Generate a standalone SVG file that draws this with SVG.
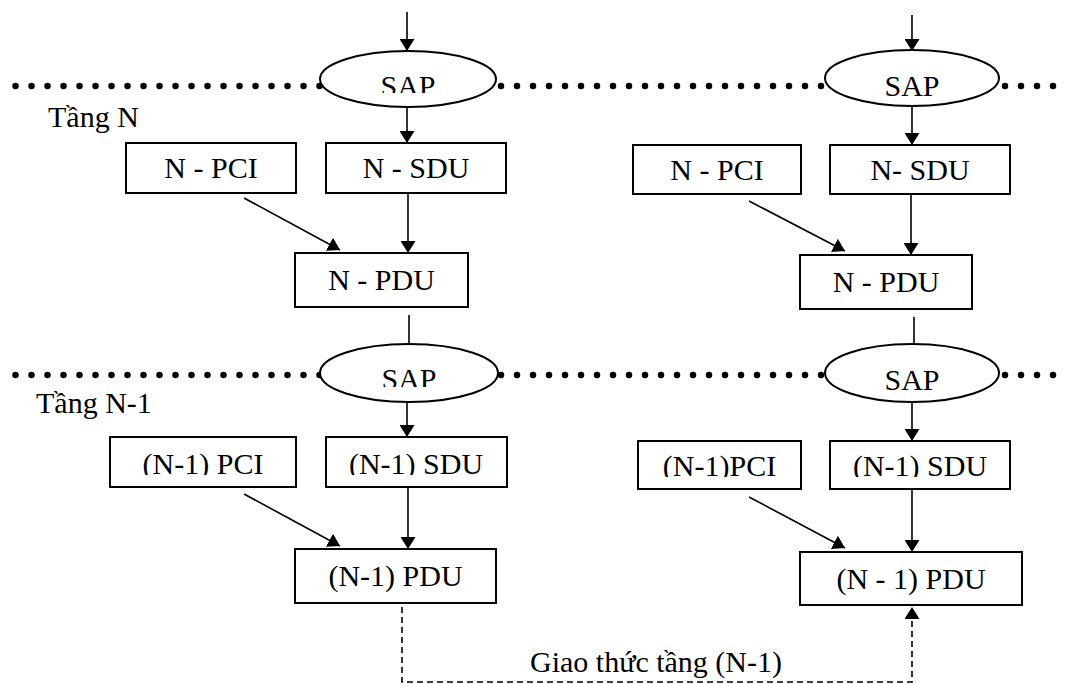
<svg xmlns="http://www.w3.org/2000/svg" width="1069" height="684" viewBox="0 0 1069 684">
  <style>
    .box { fill: #fff; stroke: #000; stroke-width: 2; }
    .sap { fill: #fff; stroke: #000; stroke-width: 2; }
    .lbl { font-family: "Liberation Serif", "Times New Roman", serif; font-size: 30px; fill: #000; }
    .mid { text-anchor: middle; }
    .conn { stroke: #000; stroke-width: 1.6; fill: none; }
    .dash { stroke-dasharray: 6 4; }
    .dots { stroke: #000; stroke-width: 6.5; stroke-linecap: round; stroke-dasharray: 0 16; fill: none; }
  </style>
  <defs>
    <marker id="arr" viewBox="0 0 12 15" refX="12" refY="7.5" markerWidth="12" markerHeight="15" markerUnits="userSpaceOnUse" orient="auto">
      <path d="M0,0 L12,7.5 L0,15 z" fill="#000"/>
    </marker>
    <!-- text boxes that cut their label off at the bottom -->
    <clipPath id="clipSapTop"><rect x="300" y="40" width="210" height="53"/></clipPath>
    <clipPath id="clipSapLow"><rect x="300" y="340" width="210" height="47"/></clipPath>
    <clipPath id="clipRowL"><rect x="0" y="430" width="1069" height="45"/></clipPath>
    <clipPath id="clipRowR"><rect x="0" y="430" width="1069" height="47"/></clipPath>
  </defs>

  <!-- layer boundaries -->
  <g id="boundaries">
    <line class="dots" x1="15.5" y1="86" x2="320" y2="86"/>
    <line class="dots" x1="501" y1="86" x2="826" y2="86"/>
    <line class="dots" x1="1005" y1="86" x2="1069" y2="86"/>
    <line class="dots" x1="15.5" y1="375" x2="320" y2="375"/>
    <line class="dots" x1="501" y1="375" x2="826" y2="375"/>
    <line class="dots" x1="1005" y1="375" x2="1069" y2="375"/>
    <text class="lbl" x="48" y="127">Tầng N</text>
    <text class="lbl" x="36" y="413">Tầng N-1</text>
  </g>

  <!-- connectors -->
  <g id="connectors">
    <!-- left stack -->
    <line class="conn" x1="407" y1="12" x2="407" y2="51" marker-end="url(#arr)"/>
    <line class="conn" x1="407" y1="107" x2="407" y2="143" marker-end="url(#arr)"/>
    <line class="conn" x1="408" y1="193" x2="408" y2="253" marker-end="url(#arr)"/>
    <line class="conn" x1="244" y1="198" x2="340" y2="250" marker-end="url(#arr)"/>
    <line class="conn" x1="409" y1="315" x2="409" y2="344"/>
    <line class="conn" x1="407" y1="402" x2="407" y2="437" marker-end="url(#arr)"/>
    <line class="conn" x1="408" y1="488" x2="408" y2="549" marker-end="url(#arr)"/>
    <line class="conn" x1="244" y1="494" x2="340" y2="546" marker-end="url(#arr)"/>
    <!-- right stack -->
    <line class="conn" x1="912" y1="15" x2="912" y2="51" marker-end="url(#arr)"/>
    <line class="conn" x1="912" y1="106" x2="912" y2="145" marker-end="url(#arr)"/>
    <line class="conn" x1="911" y1="194" x2="911" y2="255" marker-end="url(#arr)"/>
    <line class="conn" x1="749" y1="201" x2="845" y2="251" marker-end="url(#arr)"/>
    <line class="conn" x1="914" y1="317" x2="914" y2="344"/>
    <line class="conn" x1="912" y1="402" x2="912" y2="441" marker-end="url(#arr)"/>
    <line class="conn" x1="912" y1="489" x2="912" y2="552" marker-end="url(#arr)"/>
    <line class="conn" x1="749" y1="497" x2="845" y2="548" marker-end="url(#arr)"/>
    <!-- peer protocol between the two (N-1) entities -->
    <path class="conn dash" d="M402,607 V682 H912 V607" marker-end="url(#arr)"/>
    <text class="lbl mid" x="656" y="672">Giao thức tầng (N-1)</text>
  </g>

  <!-- layer N, left -->
  <g id="sap-n-left">
    <ellipse class="sap" cx="408" cy="79" rx="88" ry="28"/>
    <text class="lbl mid" x="408" y="96" clip-path="url(#clipSapTop)">SAP</text>
  </g>
  <g id="n-pci-left">
    <rect class="box" x="126" y="143" width="170" height="50"/>
    <text class="lbl mid" x="211" y="178">N - PCI</text>
  </g>
  <g id="n-sdu-left">
    <rect class="box" x="326" y="143" width="180" height="50"/>
    <text class="lbl mid" x="416" y="178">N - SDU</text>
  </g>
  <g id="n-pdu-left">
    <rect class="box" x="295" y="253" width="173" height="54"/>
    <text class="lbl mid" x="381.5" y="290">N - PDU</text>
  </g>

  <!-- layer N, right -->
  <g id="sap-n-right">
    <ellipse class="sap" cx="912" cy="78" rx="87" ry="28"/>
    <text class="lbl mid" x="912" y="96">SAP</text>
  </g>
  <g id="n-pci-right">
    <rect class="box" x="633" y="145" width="168" height="49"/>
    <text class="lbl mid" x="717" y="180">N - PCI</text>
  </g>
  <g id="n-sdu-right">
    <rect class="box" x="830" y="145" width="180" height="49"/>
    <text class="lbl mid" x="920" y="180">N- SDU</text>
  </g>
  <g id="n-pdu-right">
    <rect class="box" x="800" y="255" width="172" height="54"/>
    <text class="lbl mid" x="886" y="292">N - PDU</text>
  </g>

  <!-- layer N-1, left -->
  <g id="sap-n1-left">
    <ellipse class="sap" cx="409" cy="373" rx="89" ry="29"/>
    <text class="lbl mid" x="409" y="389" clip-path="url(#clipSapLow)">SAP</text>
  </g>
  <g id="n1-pci-left">
    <rect class="box" x="110" y="437" width="186" height="50"/>
    <text class="lbl mid" x="203" y="474" clip-path="url(#clipRowL)">(N-1) PCI</text>
  </g>
  <g id="n1-sdu-left">
    <rect class="box" x="326" y="437" width="181" height="50"/>
    <text class="lbl mid" x="416" y="474" clip-path="url(#clipRowL)">(N-1) SDU</text>
  </g>
  <g id="n1-pdu-left">
    <rect class="box" x="295" y="549" width="201" height="54"/>
    <text class="lbl mid" x="395.5" y="586">(N-1) PDU</text>
  </g>

  <!-- layer N-1, right -->
  <g id="sap-n1-right">
    <ellipse class="sap" cx="912" cy="373" rx="87" ry="29"/>
    <text class="lbl mid" x="912" y="390">SAP</text>
  </g>
  <g id="n1-pci-right">
    <rect class="box" x="638" y="441" width="163" height="48"/>
    <text class="lbl mid" x="719.5" y="476" clip-path="url(#clipRowR)">(N-1)PCI</text>
  </g>
  <g id="n1-sdu-right">
    <rect class="box" x="830" y="441" width="180" height="48"/>
    <text class="lbl mid" x="920" y="476" clip-path="url(#clipRowR)">(N-1) SDU</text>
  </g>
  <g id="n1-pdu-right">
    <rect class="box" x="800" y="552" width="222" height="53"/>
    <text class="lbl mid" x="911" y="589">(N - 1) PDU</text>
  </g>
</svg>
